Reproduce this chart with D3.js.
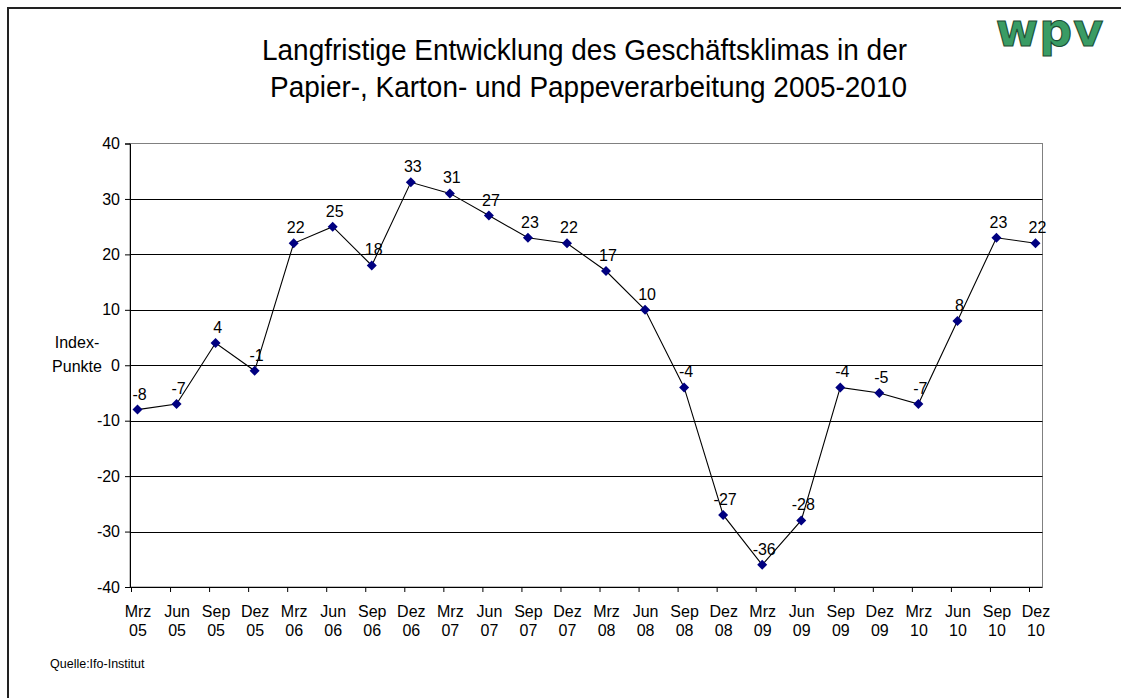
<!DOCTYPE html>
<html><head><meta charset="utf-8">
<script src="https://cdn.jsdelivr.net/npm/d3@7"></script>
<style>body{margin:0;background:#fff}svg{display:block}text{font-family:"Liberation Sans",Arial,sans-serif}</style>
</head><body>
<svg id="c" width="1121" height="698"></svg>
<script>
const categories = ["Mrz 05","Jun 05","Sep 05","Dez 05","Mrz 06","Jun 06","Sep 06","Dez 06","Mrz 07","Jun 07","Sep 07","Dez 07","Mrz 08","Jun 08","Sep 08","Dez 08","Mrz 09","Jun 09","Sep 09","Dez 09","Mrz 10","Jun 10","Sep 10","Dez 10"];
const values = [-8,-7,4,-1,22,25,18,33,31,27,23,22,17,10,-4,-27,-36,-28,-4,-5,-7,8,23,22];
const yTicks = [-40,-30,-20,-10,0,10,20,30,40];
const titleLines = ["Langfristige Entwicklung des Geschäftsklimas in der","Papier-, Karton- und Pappeverarbeitung 2005-2010"];

const svg = d3.select("#c");
const FF = "Liberation Sans, Arial, sans-serif";
// frame
svg.append("path").attr("d","M8,700 V8 H1125").attr("fill","none").attr("stroke","#222").attr("stroke-width",2);

const L=130, R=1042.5, T=143.5, B=587;
const x = d3.scalePoint().domain(categories).range([137.5,1035.5]);
const y = d3.scaleLinear().domain([-40,40]).range([B,T]);

// plot border (gray)
svg.append("rect").attr("x",L).attr("y",T).attr("width",R-L).attr("height",B-T).attr("fill","none").attr("stroke","#808080").attr("stroke-width",1);
// gridlines
svg.append("g").selectAll("line").data(yTicks.filter(d=>d>-40&&d<40)).join("line")
  .attr("x1",L).attr("x2",R).attr("y1",d=>Math.round(y(d))+0.5).attr("y2",d=>Math.round(y(d))+0.5)
  .attr("stroke","#000").attr("stroke-width",1);

// y axis
const ya = svg.append("g").attr("transform",`translate(${L},0)`)
  .call(d3.axisLeft(y).tickValues(yTicks).tickSize(5).tickPadding(5).tickFormat(d=>String(d)));
ya.select(".domain").attr("stroke","#000");
ya.selectAll(".tick line").attr("stroke","#000");
ya.selectAll("text").attr("font-size",16).attr("fill","#000").style("font-family",FF);

// x axis
const xa = svg.append("g").attr("transform",`translate(0,${B})`)
  .call(d3.axisBottom(x).tickSize(5).tickPadding(6).tickFormat(""));
xa.select(".domain").attr("d",`M${L},0.5H${R}`).attr("stroke","#000");
xa.selectAll(".tick line").attr("x1",-6.5).attr("x2",-6.5).attr("stroke","#000");
xa.selectAll(".tick").each(function(d){
  const p=d.split(" ");
  const t=d3.select(this).append("text").attr("fill","#000").attr("font-size",16).attr("text-anchor","middle")
    .style("font-family",FF);
  t.append("tspan").attr("x",0).attr("y",30).text(p[0]);
  t.append("tspan").attr("x",0).attr("y",49).text(p[1]);
});

// line
svg.append("path").datum(values)
  .attr("d",d3.line().x((d,i)=>x(categories[i])).y(d=>y(d)))
  .attr("fill","none").attr("stroke","#000").attr("stroke-width",1.1);
// markers
svg.append("g").selectAll("path").data(values).join("path")
  .attr("transform",(d,i)=>`translate(${x(categories[i])},${y(d)})`)
  .attr("d","M0,-5L5,0L0,5L-5,0Z").attr("fill","#000080");
// data labels
svg.append("g").selectAll("text").data(values).join("text")
  .attr("x",(d,i)=>x(categories[i])+2).attr("y",d=>y(d)-10)
  .attr("text-anchor","middle").attr("font-size",16).attr("fill","#000").text(d=>String(d));

// y label
svg.append("text").attr("x",77).attr("y",348).attr("text-anchor","middle").attr("font-size",16).text("Index-");
svg.append("text").attr("x",77).attr("y",372).attr("text-anchor","middle").attr("font-size",16).text("Punkte");

// title
const tl = [645, 637];
svg.append("g").selectAll("text").data(titleLines).join("text")
  .attr("x",(d,i)=>i===0?262:270).attr("y",(d,i)=>60+i*37).attr("font-size",29).attr("fill","#000")
  .attr("textLength",(d,i)=>tl[i]).attr("lengthAdjust","spacingAndGlyphs").text(d=>d);

// logo
svg.append("text").attr("x",1050).attr("y",46).attr("text-anchor","middle").attr("font-size",46).attr("font-weight","bold")
  .attr("fill","#3a9c64").attr("stroke","#1d4d33").attr("stroke-width",1.1).attr("letter-spacing",1)
  .style("font-family","DejaVu Sans, sans-serif").text("wpv");

// source
svg.append("text").attr("x",50).attr("y",668).attr("font-size",12.5).attr("fill","#000").text("Quelle:Ifo-Institut");
</script>
</body></html>
